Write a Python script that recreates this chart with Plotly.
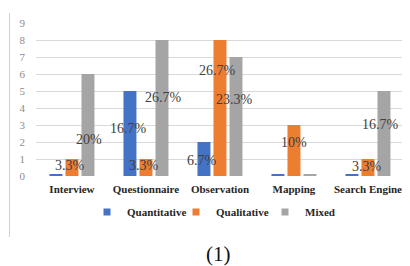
import plotly.graph_objects as go

# ---- data ----
categories = ["Interview", "Questionnaire", "Observation", "Mapping", "Search Engine"]
quantitative = [0, 5, 2, 0, 0]
qualitative = [1, 1, 8, 3, 1]
mixed = [6, 8, 7, 0, 5]
quantitative_labels = ["", "16.7%", "6.7%", "", ""]
qualitative_labels = ["3.3%", "3.3%", "26.7%", "10%", "3.3%"]
mixed_labels = ["20%", "26.7%", "23.3%", "", "16.7%"]
series_names = ["Quantitative", "Qualitative", "Mixed"]
y_tick_values = [0, 1, 2, 3, 4, 5, 6, 7, 8, 9]
caption = "(1)"

# ---- layout / style (not data) ----
COLORS = ["#4472C4", "#ED7D31", "#A5A5A5"]
ZERO_STUB = 0.07           # zero-valued bars are drawn as a thin sliver, as in the reference
BAR_SHIFT = [-16, 0, 16]    # pixel offset of each series' bar centre within a group
LABEL_Y = [                 # vertical placement of each data label (data units)
    [None, 2.8, 0.9, None, None],
    [0.6, 0.6, 6.2, 2.0, 0.55],
    [2.15, 4.6, 4.5, None, 3.05],
]
LABEL_DX = [                # small extra horizontal nudges of the labels (px)
    [0, -1, -2, 0, 0],
    [-2, -2, -2, 0, -1],
    [1, 2, -1, 0, -3],
]
SERIF = "Liberation Serif"

PAGE_OFFSET = 8             # the page body margin shifts the figure by 8px
W, H = 410 - PAGE_OFFSET, 266 - PAGE_OFFSET
ML, MR, MT = 36 - PAGE_OFFSET, 0, 23 - PAGE_OFFSET
MB = H - (176 - PAGE_OFFSET)
PW, PH = W - ML - MR, H - MT - MB


def wx(px):   # window pixel x -> paper fraction
    return (px - PAGE_OFFSET - ML) / PW


def wy(py):   # window pixel y -> paper fraction
    return (H - MB - (py - PAGE_OFFSET)) / PH


values = [quantitative, qualitative, mixed]
labels = [quantitative_labels, qualitative_labels, mixed_labels]

fig = go.Figure()
for name, vals, color in zip(series_names, values, COLORS):
    fig.add_trace(go.Bar(
        x=categories,
        y=[v if v > 0 else ZERO_STUB for v in vals],
        name=name,
        marker=dict(color=color, line=dict(width=0)),
        showlegend=False,
        hoverinfo="skip",
    ))
    # legend entry with a small square marker
    fig.add_trace(go.Scatter(
        x=[None], y=[None], mode="markers", name=name,
        marker=dict(symbol="square", size=7, color=color),
        showlegend=True,
    ))

annotations = []
for s, (labs, ys, dxs) in enumerate(zip(labels, LABEL_Y, LABEL_DX)):
    for cat, txt, yy, dx in zip(categories, labs, ys, dxs):
        if not txt:
            continue
        annotations.append(dict(
            x=cat, y=yy, xref="x", yref="y", text=txt, showarrow=False,
            xshift=BAR_SHIFT[s] + dx, xanchor="center", yanchor="middle",
            font=dict(family=SERIF, size=14, color="#404040"),
        ))

annotations.append(dict(
    x=wx(218), y=wy(254), xref="paper", yref="paper", text=caption,
    showarrow=False, xanchor="center", yanchor="middle",
    font=dict(family=SERIF, size=21, color="#111111"),
))

fig.update_layout(
    width=W, height=H,
    margin=dict(l=ML, r=MR, t=MT, b=MB, pad=0),
    paper_bgcolor="white", plot_bgcolor="white",
    barmode="group", bargap=0.351, bargroupgap=0.19,
    annotations=annotations,
    shapes=[dict(
        type="line", xref="paper", yref="paper",
        x0=wx(9.5), x1=wx(9.5), y0=wy(237), y1=wy(13),
        line=dict(color="#d0d0d0", width=1),
    )],
    legend=dict(
        orientation="h", x=wx(87), y=wy(212), xanchor="left", yanchor="middle",
        font=dict(family=SERIF, size=11, color="#262626", weight="bold"),
        bgcolor="rgba(0,0,0,0)", entrywidth=44, itemwidth=30,
        traceorder="normal",
    ),
    xaxis=dict(
        type="category", range=[-0.486, 4.568], showgrid=False, showline=False,
        zeroline=False, ticks="",
        tickfont=dict(family=SERIF, size=11, color="#262626", weight="bold"),
        ticklabelstandoff=5,
    ),
    yaxis=dict(
        range=[0, 9], tickvals=y_tick_values, showgrid=True, gridcolor="#d9d9d9",
        gridwidth=1, zeroline=False, showline=False, ticks="",
        tickfont=dict(family=SERIF, size=11, color="#8c8c8c"),
        ticklabelstandoff=10,
    ),
    showlegend=True,
)

fig.write_html("out.html")
